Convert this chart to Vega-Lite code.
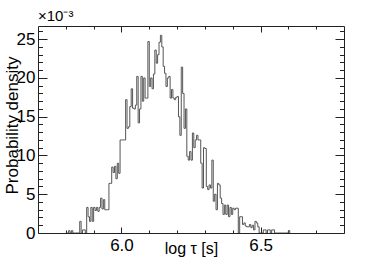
{
  "$schema": "https://vega.github.io/schema/vega-lite/v6.json",
  "width": 306,
  "height": 207,
  "autosize": "none",
  "padding": {"left": 38, "top": 26, "right": 38, "bottom": 27},
  "background": "white",
  "title": {"text": "×10⁻³", "anchor": "start", "frame": "group", "fontSize": 15, "fontWeight": "normal", "offset": 2, "color": "#000"},
  "data": {"values": [
    {"t":5.800,"d":0},{"t":5.805,"d":0},{"t":5.810,"d":0.0003},{"t":5.815,"d":0},{"t":5.820,"d":0.0003},
    {"t":5.825,"d":0},{"t":5.830,"d":0},{"t":5.835,"d":0},{"t":5.840,"d":0},{"t":5.845,"d":0},
    {"t":5.850,"d":0.0015},{"t":5.855,"d":0},{"t":5.860,"d":0.0004},{"t":5.865,"d":0.0004},{"t":5.870,"d":0},
    {"t":5.875,"d":0.0033},{"t":5.880,"d":0.0021},{"t":5.885,"d":0.0015},{"t":5.890,"d":0.0033},{"t":5.895,"d":0.0015},
    {"t":5.900,"d":0.0033},{"t":5.905,"d":0.0029},{"t":5.910,"d":0.0033},{"t":5.915,"d":0.0028},{"t":5.920,"d":0.0033},
    {"t":5.925,"d":0.0045},{"t":5.930,"d":0.0031},{"t":5.935,"d":0.0043},{"t":5.940,"d":0.0030},{"t":5.945,"d":0.0030},
    {"t":5.950,"d":0.0030},{"t":5.955,"d":0.0064},{"t":5.960,"d":0.0064},{"t":5.965,"d":0.0085},{"t":5.970,"d":0.0078},
    {"t":5.975,"d":0.0086},{"t":5.980,"d":0.0070},{"t":5.985,"d":0.0090},{"t":5.990,"d":0.0077},{"t":5.995,"d":0.0120},
    {"t":6.000,"d":0.0120},{"t":6.005,"d":0.0120},{"t":6.010,"d":0.0120},{"t":6.015,"d":0.0172},{"t":6.020,"d":0.0135},
    {"t":6.025,"d":0.0137},{"t":6.030,"d":0.0163},{"t":6.035,"d":0.0186},{"t":6.040,"d":0.0161},{"t":6.045,"d":0.0160},
    {"t":6.050,"d":0.0165},{"t":6.055,"d":0.0202},{"t":6.060,"d":0.0142},{"t":6.065,"d":0.0160},{"t":6.070,"d":0.0202},
    {"t":6.075,"d":0.0170},{"t":6.080,"d":0.0200},{"t":6.085,"d":0.0174},{"t":6.090,"d":0.0174},{"t":6.095,"d":0.0247},
    {"t":6.100,"d":0.0189},{"t":6.105,"d":0.0200},{"t":6.110,"d":0.0186},{"t":6.115,"d":0.0205},{"t":6.120,"d":0.0236},
    {"t":6.125,"d":0.0219},{"t":6.130,"d":0.0230},{"t":6.135,"d":0.0246},{"t":6.140,"d":0.0255},{"t":6.145,"d":0.0240},
    {"t":6.150,"d":0.0215},{"t":6.155,"d":0.0206},{"t":6.160,"d":0.0189},{"t":6.165,"d":0.0200},{"t":6.170,"d":0.0202},
    {"t":6.175,"d":0.0174},{"t":6.180,"d":0.0185},{"t":6.185,"d":0.0174},{"t":6.190,"d":0.0172},{"t":6.195,"d":0.0175},
    {"t":6.200,"d":0.0176},{"t":6.205,"d":0.0150},{"t":6.210,"d":0.0126},{"t":6.215,"d":0.0214},{"t":6.220,"d":0.0180},
    {"t":6.225,"d":0.0135},{"t":6.230,"d":0.0160},{"t":6.235,"d":0.0099},{"t":6.240,"d":0.0094},{"t":6.245,"d":0.0105},
    {"t":6.250,"d":0.0094},{"t":6.255,"d":0.0129},{"t":6.260,"d":0.0110},{"t":6.265,"d":0.0120},{"t":6.270,"d":0.0126},
    {"t":6.275,"d":0.0120},{"t":6.280,"d":0.0120},{"t":6.285,"d":0.0090},{"t":6.290,"d":0.0058},{"t":6.295,"d":0.0110},
    {"t":6.300,"d":0.0109},{"t":6.305,"d":0.0060},{"t":6.310,"d":0.0056},{"t":6.315,"d":0.0062},{"t":6.320,"d":0.0058},
    {"t":6.325,"d":0.0094},{"t":6.330,"d":0.0041},{"t":6.335,"d":0.0050},{"t":6.340,"d":0.0030},{"t":6.345,"d":0.0064},
    {"t":6.350,"d":0.0062},{"t":6.355,"d":0.0045},{"t":6.360,"d":0.0038},{"t":6.365,"d":0.0024},{"t":6.370,"d":0.0036},
    {"t":6.375,"d":0.0024},{"t":6.380,"d":0.0036},{"t":6.385,"d":0.0021},{"t":6.390,"d":0.0033},{"t":6.395,"d":0.0024},
    {"t":6.400,"d":0.0032},{"t":6.405,"d":0.0030},{"t":6.410,"d":0.0032},{"t":6.415,"d":0.0032},{"t":6.420,"d":0},
    {"t":6.425,"d":0.0021},{"t":6.430,"d":0.0021},{"t":6.435,"d":0.0011},{"t":6.440,"d":0.0013},{"t":6.445,"d":0.0009},
    {"t":6.450,"d":0.0008},{"t":6.455,"d":0.0008},{"t":6.460,"d":0.0011},{"t":6.465,"d":0.0007},{"t":6.470,"d":0.0010},
    {"t":6.475,"d":0.0004},{"t":6.480,"d":0.0015},{"t":6.485,"d":0.0013},{"t":6.490,"d":0.0008},{"t":6.495,"d":0},
    {"t":6.500,"d":0},{"t":6.505,"d":0},{"t":6.510,"d":0.0004},{"t":6.515,"d":0.0004},{"t":6.520,"d":0},
    {"t":6.525,"d":0.0004},{"t":6.530,"d":0.0004},{"t":6.535,"d":0},{"t":6.540,"d":0.0004},{"t":6.545,"d":0.0004},
    {"t":6.550,"d":0},{"t":6.555,"d":0},{"t":6.560,"d":0},{"t":6.565,"d":0},{"t":6.570,"d":0},
    {"t":6.575,"d":0},{"t":6.580,"d":0},{"t":6.585,"d":0},{"t":6.590,"d":0},{"t":6.595,"d":0},
    {"t":6.600,"d":0.0003},{"t":6.605,"d":0}
  ]},
  "layer": [
    {
      "mark": {"type": "line", "interpolate": "step-after", "color": "#555", "strokeWidth": 1, "clip": true},
      "encoding": {
        "x": {"field": "t", "type": "quantitative", "scale": {"domain": [5.7, 6.8], "zero": false, "nice": false},
          "axis": {"orient": "bottom", "values": [6.0, 6.5], "format": ".1f", "tickSize": -6, "labelPadding": 10,
            "title": "log τ [s]", "titleFontSize": 16, "titleY": 20, "titleBaseline": "alphabetic"}},
        "y": {"field": "d", "type": "quantitative", "scale": {"domain": [0, 0.0267], "nice": false, "zero": true},
          "axis": {"orient": "left", "values": [0, 0.005, 0.01, 0.015, 0.02, 0.025], "labelExpr": "format(datum.value*1000,'d')",
            "tickSize": -9, "labelPadding": 12, "title": "Probability density", "titleFontSize": 17,
            "titleX": -21, "titleY": 99, "titleAngle": -90, "titleBaseline": "alphabetic", "titleAlign": "center"}}
      }
    },
    {
      "mark": {"type": "line", "opacity": 0},
      "encoding": {
        "x": {"field": "t", "type": "quantitative",
          "axis": {"orient": "bottom", "values": [5.8, 5.9, 6.1, 6.2, 6.3, 6.4, 6.6, 6.7], "tickSize": -3, "labels": false, "title": null}},
        "y": {"field": "d", "type": "quantitative",
          "axis": {"orient": "left", "values": [0.001,0.002,0.003,0.004,0.006,0.007,0.008,0.009,0.011,0.012,0.013,0.014,0.016,0.017,0.018,0.019,0.021,0.022,0.023,0.024,0.026], "tickSize": -4.5, "labels": false, "title": null}}
      }
    },
    {
      "mark": {"type": "line", "opacity": 0},
      "encoding": {
        "x": {"field": "t", "type": "quantitative",
          "axis": {"orient": "top", "values": [6.0, 6.5], "tickSize": -6, "labels": false, "title": null}},
        "y": {"field": "d", "type": "quantitative",
          "axis": {"orient": "right", "values": [0, 0.005, 0.01, 0.015, 0.02, 0.025], "tickSize": -9, "labels": false, "title": null}}
      }
    },
    {
      "mark": {"type": "line", "opacity": 0},
      "encoding": {
        "x": {"field": "t", "type": "quantitative",
          "axis": {"orient": "top", "values": [5.8, 5.9, 6.1, 6.2, 6.3, 6.4, 6.6, 6.7], "tickSize": -3, "labels": false, "title": null}},
        "y": {"field": "d", "type": "quantitative",
          "axis": {"orient": "right", "values": [0.001,0.002,0.003,0.004,0.006,0.007,0.008,0.009,0.011,0.012,0.013,0.014,0.016,0.017,0.018,0.019,0.021,0.022,0.023,0.024,0.026], "tickSize": -4.5, "labels": false, "title": null}}
      }
    }
  ],
  "resolve": {"axis": {"x": "independent", "y": "independent"}},
  "config": {
    "font": "Liberation Sans",
    "view": {"stroke": "#222", "strokeWidth": 1},
    "axis": {"domain": false, "grid": false, "tickColor": "#222", "tickWidth": 1, "labelFontSize": 17, "labelColor": "#000",
      "titleColor": "#000", "titleFontWeight": "normal", "labelFont": "Liberation Sans", "titleFont": "Liberation Sans"}
  }
}
